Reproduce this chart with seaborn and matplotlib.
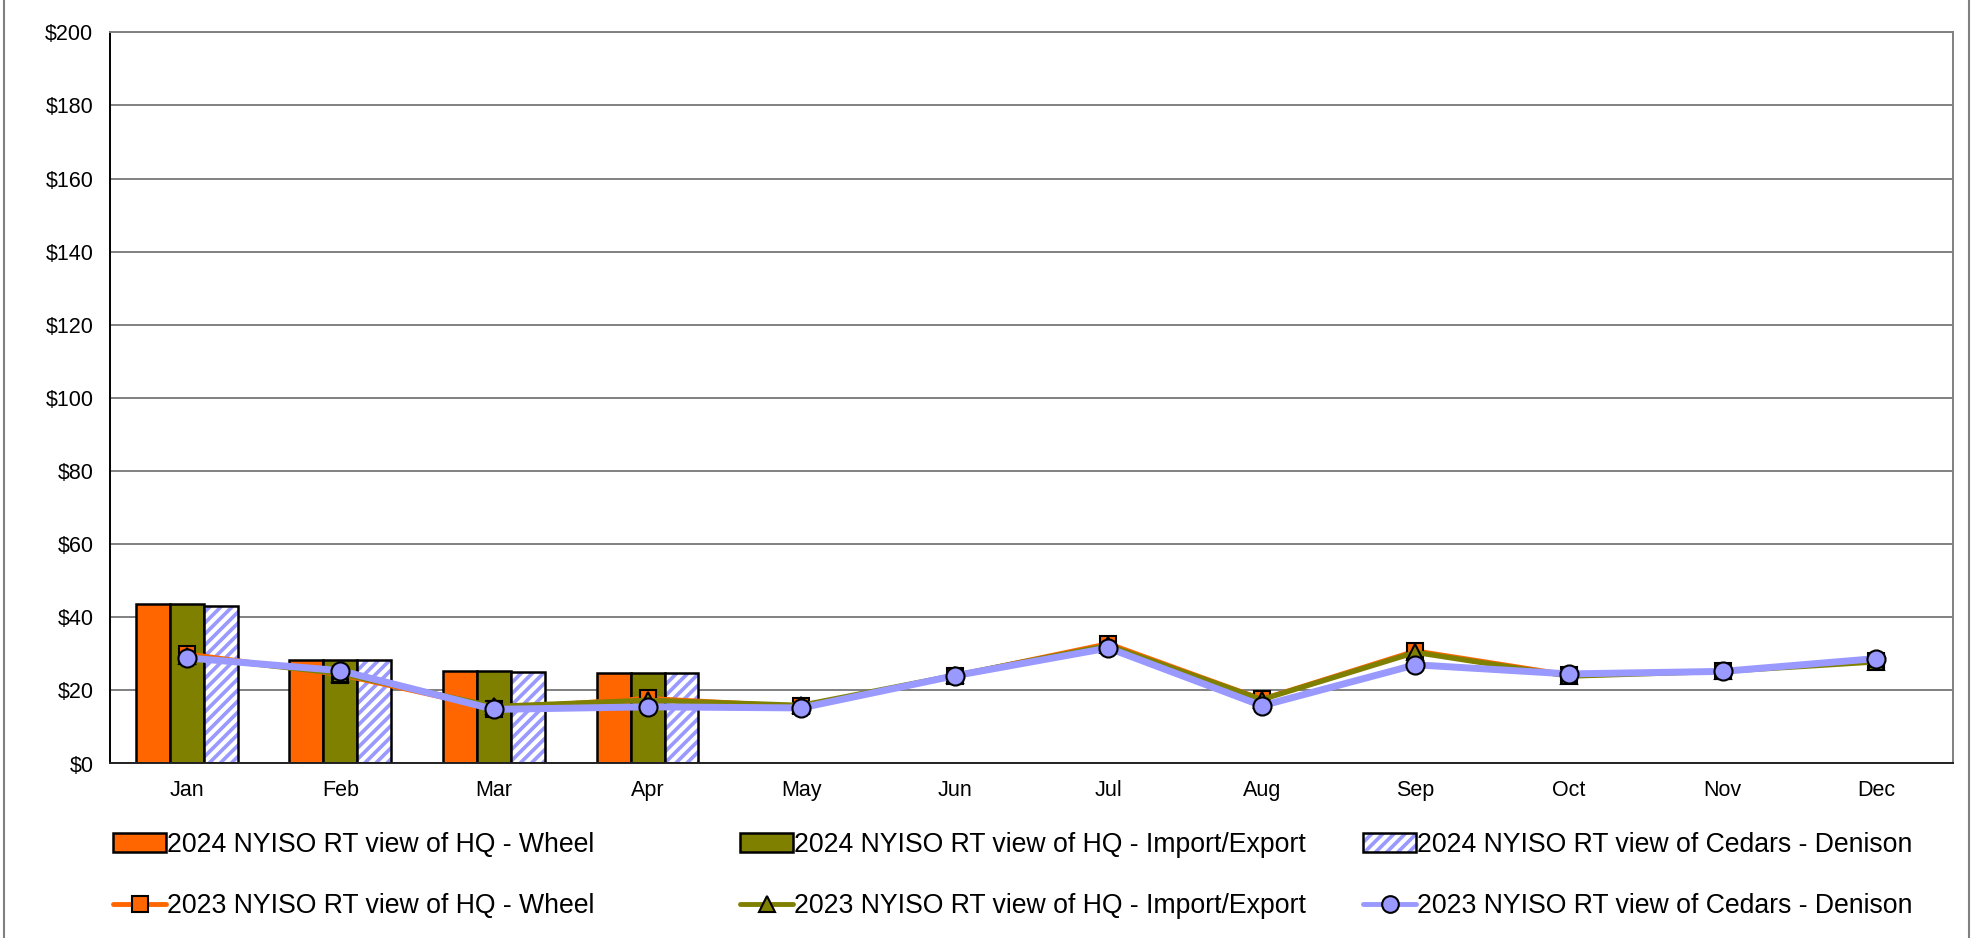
import numpy as np
import pandas as pd
import matplotlib
matplotlib.use('Agg')
import matplotlib.pyplot as plt
import matplotlib.patches as mpatches
from matplotlib.lines import Line2D
from matplotlib.legend_handler import HandlerTuple
import seaborn as sns

months = ['Jan', 'Feb', 'Mar', 'Apr', 'May', 'Jun', 'Jul', 'Aug', 'Sep', 'Oct', 'Nov', 'Dec']

# 2024 bars (Jan-Apr only)
bar_months = ['Jan', 'Feb', 'Mar', 'Apr']
wheel_2024 = [43.7, 28.3, 25.2, 24.8]
impexp_2024 = [43.7, 28.3, 25.2, 24.8]
cedars_2024 = [43.2, 28.2, 25.1, 24.7]

# 2023 lines
wheel_2023 = [30.0, 24.3, 15.0, 17.8, 15.6, 24.0, 32.8, 17.6, 30.8, 24.2, 25.3, 28.0]
impexp_2023 = [29.3, 24.6, 15.6, 17.3, 15.9, 24.1, 32.3, 17.5, 30.4, 23.9, 25.2, 27.8]
cedars_2023 = [28.9, 25.4, 14.8, 15.5, 15.2, 24.0, 31.6, 15.8, 27.0, 24.5, 25.2, 28.7]

bar_names = ['2024 NYISO RT view of HQ - Wheel',
             '2024 NYISO RT view of HQ - Import/Export',
             '2024 NYISO RT view of Cedars - Denison']
line_names = ['2023 NYISO RT view of HQ - Wheel',
              '2023 NYISO RT view of HQ - Import/Export',
              '2023 NYISO RT view of Cedars - Denison']

ORANGE = '#FF6600'
OLIVE = '#808000'
LAV = '#9999FF'
GRID = '#808080'

sns.set_style('white')
plt.rcParams['font.family'] = ['Liberation Sans', 'DejaVu Sans']
plt.rcParams['hatch.linewidth'] = 3.0
plt.rcParams['text.color'] = 'black'
plt.rcParams['xtick.labelcolor'] = 'black'
plt.rcParams['ytick.labelcolor'] = 'black'

bars = pd.DataFrame({
    'month': bar_months * 3,
    'series': [bar_names[0]] * 4 + [bar_names[1]] * 4 + [bar_names[2]] * 4,
    'value': wheel_2024 + impexp_2024 + cedars_2024,
})

fig = plt.figure(figsize=(19.76, 9.38), dpi=100)
ax = fig.add_axes([110 / 1976, 1 - 763.5 / 938, (1953 - 110) / 1976, (763.5 - 32.3) / 938])

sns.barplot(data=bars, x='month', y='value', hue='series', order=months,
            hue_order=bar_names, palette=[ORANGE, OLIVE, LAV], saturation=1,
            width=0.663, edgecolor='black', linewidth=1.8, legend=False, ax=ax, zorder=2)

# hatched lavender bars: white stripes, black outline drawn on top
lav_rgba = matplotlib.colors.to_rgba(LAV)
for p in list(ax.patches):
    if np.allclose(p.get_facecolor(), lav_rgba):
        p.set_hatch('///')
        p.set_edgecolor('white')
        p.set_linewidth(0)
        ax.add_patch(mpatches.Rectangle(p.get_xy(), p.get_width(), p.get_height(),
                                        fill=False, edgecolor='black', linewidth=1.8, zorder=2.1))

xpos = np.arange(len(months))
sns.lineplot(x=xpos, y=wheel_2023, color=ORANGE, linewidth=3.5, marker='s', markersize=11,
             markerfacecolor=ORANGE, markeredgecolor='black', markeredgewidth=1.5, ax=ax, zorder=3)
sns.lineplot(x=xpos, y=impexp_2023, color=OLIVE, linewidth=3.8, marker='^', markersize=12,
             markerfacecolor=OLIVE, markeredgecolor='black', markeredgewidth=1.5, ax=ax, zorder=4)
sns.lineplot(x=xpos, y=cedars_2023, color=LAV, linewidth=5, marker='o', markersize=13,
             markerfacecolor=LAV, markeredgecolor='black', markeredgewidth=1.5, ax=ax, zorder=5)

ax.set_xlim(-0.5, 11.5)
ax.set_ylim(0, 200)
ax.set_yticks(np.arange(0, 201, 20))
ax.set_yticklabels(['$%d' % v for v in range(0, 201, 20)])
ax.set_xticks(xpos)
ax.set_xticklabels(months)
ax.set_xticks(np.arange(-0.5, 12, 1), minor=True)
ax.tick_params(axis='x', which='major', length=0, pad=12, labelsize=15.5, labelcolor='black')
ax.tick_params(axis='x', which='minor', length=7, width=1.2, color='#333333', direction='out')
ax.tick_params(axis='y', length=7, width=1.2, color=GRID, direction='out', pad=5, labelsize=15.5,
               labelcolor='black')
ax.set_xlabel('')
ax.set_ylabel('')
ax.yaxis.grid(True, color=GRID, linewidth=1.4)
ax.set_axisbelow(True)
for side in ['top', 'right']:
    ax.spines[side].set_color(GRID)
    ax.spines[side].set_linewidth(1.4)
ax.spines['left'].set_color('black')
ax.spines['bottom'].set_color('#222222')
ax.spines['left'].set_linewidth(1.4)
ax.spines['bottom'].set_linewidth(1.4)

# legend: three columns of two rows each
bar_handles = [
    mpatches.Patch(facecolor=ORANGE, edgecolor='black', linewidth=1.8),
    mpatches.Patch(facecolor=OLIVE, edgecolor='black', linewidth=1.8),
    (mpatches.Patch(facecolor=LAV, edgecolor='white', hatch='///', linewidth=0),
     mpatches.Patch(fill=False, edgecolor='black', linewidth=1.8)),
]
line_handles = [
    Line2D([], [], color=ORANGE, linewidth=3.5, marker='s', markersize=11,
           markerfacecolor=ORANGE, markeredgecolor='black', markeredgewidth=1.5),
    Line2D([], [], color=OLIVE, linewidth=3.5, marker='^', markersize=12,
           markerfacecolor=OLIVE, markeredgecolor='black', markeredgewidth=1.5),
    Line2D([], [], color=LAV, linewidth=3.5, marker='o', markersize=12,
           markerfacecolor=LAV, markeredgecolor='black', markeredgewidth=1.5),
]
col_x = [113, 740, 1363]
for i in range(3):
    fig.legend([bar_handles[i], line_handles[i]], [bar_names[i], line_names[i]],
               loc='upper left', bbox_to_anchor=(col_x[i] / 1976, 1 - 832 / 938),
               frameon=False, fontsize=19.2, handlelength=2.0, handletextpad=0.03,
               borderpad=0, borderaxespad=0, labelspacing=1.32, labelcolor='black',
               handler_map={tuple: HandlerTuple(ndivide=1, pad=0)})

# outer frame lines on the sides
fig.add_artist(Line2D([4 / 1976, 4 / 1976], [0, 1], transform=fig.transFigure, color=GRID, linewidth=1.5))
fig.add_artist(Line2D([1969 / 1976, 1969 / 1976], [0, 1], transform=fig.transFigure, color=GRID, linewidth=1.5))

fig.savefig('out.png', dpi=100, facecolor='white')
